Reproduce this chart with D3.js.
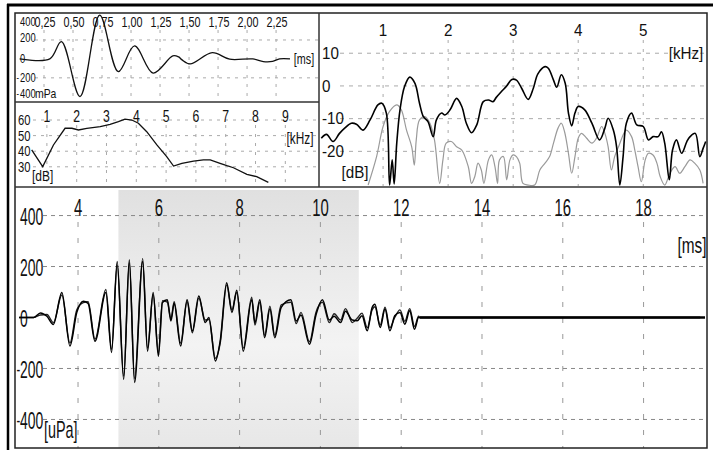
<!DOCTYPE html>
<html><head><meta charset="utf-8">
<script src="https://cdn.jsdelivr.net/npm/d3@7"></script>
<style>
html,body{margin:0;padding:0;background:#fff;}
svg{display:block;}
text{font-family:"Liberation Sans",Arial,sans-serif;fill:#111;}
</style></head><body>
<svg id="c" width="713" height="450"></svg>
<script>
// ---------- DATA ----------
// Click stimulus (top-left): time [ms] and pressure [mPa]
const clickTicks = [0.25,0.5,0.75,1.0,1.25,1.5,1.75,2.0,2.25];
const clickYTicks = [400,200,0,-200,-400];
const clickT = [0.04,0.30,0.40,0.56,0.73,0.89,1.03,1.19,1.36,1.41,1.44,1.51,1.70,1.85,2.05,2.14,2.22,2.28,2.37];
const clickV = [0,0,182,-397,463,-134,137,-150,32,21,-10,-53,66,-3,0,-28,-26,0,0];

// Stimulus spectrum (middle-left): kHz and dB
const specTicks = [1,2,3,4,5,6,7,8,9];
const specYTicks = [60,50,40,30];
const specF = [0.49,0.86,1.22,1.61,1.84,2.06,2.34,2.79,3.12,3.40,3.62,3.85,4.07,4.35,4.69,5.02,5.25,5.53,5.92,6.25,6.48,6.81,7.04,7.26,7.71,8.04,8.43];
const specV = [40.8,30.1,44,54.7,54.7,53.6,54.7,55.7,57.2,58.9,60.6,60,57.9,52.5,44,36.5,30.5,32.2,33.7,34.4,34.4,32.2,30.7,29.4,25.2,23.7,20];

// OAE response spectrum (top-right): kHz and dB
const oaeTicks = [1,2,3,4,5];
const oaeYTicks = [10,0,-10,-20];
const respF = [0.05,0.13,0.23,0.33,0.41,0.51,0.59,0.69,0.80,0.92,0.98,1.05,1.10,1.14,1.17,1.21,1.26,1.33,1.41,1.49,1.56,1.62,1.69,1.77,1.82,1.90,1.95,2.03,2.13,2.21,2.28,2.36,2.44,2.54,2.62,2.69,2.74,2.82,2.90,2.98,3.05,3.13,3.23,3.31,3.38,3.49,3.54,3.62,3.67,3.74,3.80,3.85,3.90,3.95,4.00,4.10,4.21,4.33,4.41,4.46,4.54,4.59,4.64,4.69,4.74,4.82,4.90,5.00,5.08,5.15,5.23,5.28,5.33,5.40,5.45,5.51,5.59,5.67,5.72,5.80,5.87,5.92,5.96];
const respV = [-16.0,-14.8,-17.0,-14.5,-12.9,-11.4,-11.7,-13.5,-10.4,-5.8,-5.3,-8.3,-30.3,-22.6,-30.0,-17.5,-7.3,-0.2,2.7,0.8,-5.3,-9.4,-10.9,-15.5,-10.4,-8.3,-8.9,-7.3,-3.8,-6.3,-11.4,-14.3,-11.9,-4.8,-4.3,-4.8,-3.5,-1.7,0,2.0,1.8,-0.7,-4.1,-0.7,3.7,5.9,5.4,1.8,-0.4,3.4,0.8,-8.3,-12.2,-8.3,-6.3,-7.3,-11.4,-16.5,-12.9,-9.9,-13.5,-18.6,-30.3,-21.6,-11.4,-8.3,-11.9,-12.4,-16.5,-15.5,-15.5,-14.0,-17.5,-28.7,-19.6,-16.5,-20.6,-17.0,-15.5,-14.5,-21.6,-19.1,-17.0];
const noiseF = [0.77,0.90,1.00,1.10,1.21,1.28,1.36,1.44,1.48,1.51,1.56,1.64,1.72,1.79,1.87,1.92,1.97,2.05,2.13,2.21,2.31,2.36,2.41,2.46,2.51,2.55,2.62,2.67,2.72,2.76,2.79,2.85,2.90,2.95,3.00,3.05,3.10,3.15,3.23,3.33,3.41,3.49,3.56,3.62,3.69,3.74,3.79,3.85,3.90,3.95,4.00,4.05,4.13,4.21,4.28,4.36,4.41,4.46,4.51,4.56,4.62,4.74,4.82,4.87,4.92,4.97,5.03,5.08,5.15,5.21,5.26,5.33,5.41,5.49,5.56,5.64,5.72,5.79,5.87,5.92];
const noiseV = [-30.3,-21.6,-12.4,-7.8,-5.8,-7.3,-13.5,-18.6,-24.2,-16.5,-10.4,-9.4,-11.4,-16.5,-29.8,-22.6,-17.5,-17.0,-18.6,-19.6,-24.7,-29.8,-27.7,-23.6,-25.7,-29.8,-22.6,-21.1,-24.7,-29.8,-22.6,-21.6,-28.7,-22.6,-21.1,-21.6,-23.6,-29.8,-30.3,-30.3,-25.7,-23.6,-21.6,-17.5,-12.9,-11.4,-14.0,-20.6,-26.7,-21.6,-16.0,-14.5,-16.0,-17.5,-16.0,-12.4,-14.5,-18.6,-25.7,-21.6,-18.6,-13.5,-15.5,-19.6,-24.7,-29.3,-22.6,-20.6,-21.1,-23.6,-27.7,-30.3,-26.7,-24.7,-26.7,-24.7,-22.6,-23.6,-25.7,-29.8];

// Response waveform (bottom): time [ms], pressure [uPa], traces A and B
const waveTicks = [4,6,8,10,12,14,16,18];
const waveYTicks = [400,200,0,-200,-400];
const waveT = [2.54,2.90,3.07,3.23,3.39,3.60,3.80,3.97,4.13,4.25,4.42,4.69,4.83,4.97,5.13,5.27,5.40,5.60,5.72,5.86,5.99,6.09,6.21,6.30,6.38,6.54,6.70,6.83,6.99,7.15,7.24,7.40,7.52,7.68,7.81,7.93,8.09,8.30,8.38,8.50,8.62,8.75,8.87,9.03,9.27,9.40,9.52,9.73,9.89,10.05,10.22,10.34,10.50,10.62,10.79,10.91,11.03,11.16,11.28,11.35,11.48,11.60,11.72,11.84,11.97,12.09,12.21,12.33,12.43,12.46,19.4];
const waveA = [0,0,18,5,-27,98,-112,20,64,55,-93,98,-137,220,-243,227,-255,220,-132,98,-152,59,70,-14,55,-112,70,-53,84,-20,0,-171,-92,136,20,107,-132,70,-20,70,-79,34,-79,40,70,-14,10,-105,10,70,-10,5,-20,25,-10,-13,7,-52,39,52,-39,33,-52,7,20,-26,26,-46,0,0,0];
const waveB = [0,0,10,12,-20,88,-100,30,58,62,-85,110,-125,205,-230,215,-240,232,-120,90,-140,66,60,-5,62,-100,62,-60,76,-10,-8,-160,-100,128,30,98,-120,80,-30,60,-70,44,-70,50,60,-24,20,-95,20,60,-20,15,-10,35,-20,-3,17,-40,30,42,-30,40,-40,0,30,-15,35,-35,5,0,0];
const analysisWindow = [5.0, 10.95];

// ---------- DRAWING ----------
const svg = d3.select('#c');
const defs = svg.append('defs');

function label(g, x, y, s, size, sx, anchor) {
  g.append('text')
    .attr('transform', `translate(${x},${y}) scale(${sx},1)`)
    .attr('text-anchor', anchor || 'start')
    .attr('dominant-baseline', 'central')
    .style('font-size', size + 'px')
    .text(s);
}
// numeric label: digits start at x, a small minus sign sits just left of them
function numLabel(g, x, y, v, size, sx) {
  label(g, x, y, String(Math.abs(v)), size, sx, 'start');
  if (v < 0) label(g, x - 3.5, y, '-', size * 0.8, sx, 'start');
}
function clip(id, x0, y0, x1, y1) {
  defs.append('clipPath').attr('id', id).append('rect')
    .attr('x', x0).attr('y', y0).attr('width', x1 - x0).attr('height', y1 - y0);
  return `url(#${id})`;
}
function zip(a, b) { return a.map((d, i) => [d, b[i]]); }

// ===== Bottom panel =====
const xB = d3.scaleLinear().domain([2.44, 19.57]).range([15, 707]);
const yB = d3.scaleLinear().domain([-512, 512]).range([448, 187]);
const gB = svg.append('g');
const grad = defs.append('linearGradient').attr('id', 'shade').attr('x1', 0).attr('x2', 0).attr('y1', 0).attr('y2', 1);
[[0,'#e0e0e0'],[0.3,'#eaeaea'],[0.6,'#f3f3f3'],[1,'#e7e7e7']].forEach(s =>
  grad.append('stop').attr('offset', s[0]).attr('stop-color', s[1]));
gB.append('rect').attr('x', xB(analysisWindow[0])).attr('y', 190)
  .attr('width', xB(analysisWindow[1]) - xB(analysisWindow[0])).attr('height', 258)
  .attr('fill', 'url(#shade)');
gB.selectAll('.vg').data(waveTicks).join('line')
  .attr('x1', d => xB(d)).attr('x2', d => xB(d)).attr('y1', 222).attr('y2', 448)
  .attr('stroke', '#999').attr('stroke-width', 1).attr('stroke-dasharray', '5,11');
gB.selectAll('.hg').data(waveYTicks.filter(d => d !== 0)).join('line')
  .attr('x1', 43).attr('x2', 705).attr('y1', d => yB(d)).attr('y2', d => yB(d))
  .attr('stroke', '#888').attr('stroke-width', 1).attr('stroke-dasharray', '4,4');
waveTicks.forEach(d => label(gB, xB(d), 208, String(d), 24, 0.62, 'middle'));
waveYTicks.forEach(d => numLabel(gB, 20, yB(d) + 1, d, 24, 0.58));
label(gB, 44, yB(-400) + 10, '[uPa]', 24, 0.6, 'start');
label(gB, 692, 245, '[ms]', 22, 0.7, 'middle');
const lineB = d3.line().x(d => xB(d[0])).y(d => yB(d[1])).curve(d3.curveMonotoneX);
const cpB = clip('cb', 15, 188, 707, 448);
gB.append('path').datum(zip(waveT, waveB)).attr('d', lineB).attr('fill', 'none')
  .attr('stroke', '#222').attr('stroke-width', 1.4).attr('clip-path', cpB);
gB.append('path').datum(zip(waveT, waveA)).attr('d', lineB).attr('fill', 'none')
  .attr('stroke', '#000').attr('stroke-width', 1.5).attr('clip-path', cpB);
gB.append('line').attr('x1', xB(12.46)).attr('x2', 705).attr('y1', yB(0)).attr('y2', yB(0))
  .attr('stroke', '#000').attr('stroke-width', 2.4);

// ===== Top-left click panel =====
const xC = d3.scaleLinear().domain([0, 2.62]).range([15, 319]);
const yC = d3.scaleLinear().domain([-455, 485]).range([102, 13]);
const gC = svg.append('g');
gC.selectAll('.vg').data(clickTicks).join('line')
  .attr('x1', d => xC(d)).attr('x2', d => xC(d)).attr('y1', 30).attr('y2', 102)
  .attr('stroke', '#aaa').attr('stroke-dasharray', '3,6');
gC.selectAll('.hg').data([200, -200]).join('line')
  .attr('x1', 35).attr('x2', 318).attr('y1', d => yC(d)).attr('y2', d => yC(d))
  .attr('stroke', '#aaa').attr('stroke-dasharray', '3,5');
clickTicks.forEach(d => label(gC, xC(d) + 1, 22, d.toFixed(2).replace('.', ','), 15, 0.72, 'middle'));
const clickLabOff = {400: 0, 200: -3, 0: -1, '-200': -0.5, '-400': -3.5};
clickYTicks.forEach(d => numLabel(gC, 20, yC(d) + clickLabOff[d], d, 13, 0.72));
label(gC, 35, yC(-400) - 3.5, 'mPa', 13, 0.8, 'start');
label(gC, 304, 59, '[ms]', 15, 0.72, 'middle');
const lineC = d3.line().x(d => xC(d[0])).y(d => yC(d[1])).curve(d3.curveCatmullRom.alpha(0.5));
gC.append('path').datum(zip(clickT, clickV)).attr('d', lineC).attr('fill', 'none')
  .attr('stroke', '#111').attr('stroke-width', 1.3).attr('clip-path', clip('cc', 15, 13, 319, 102));

// ===== Middle-left stimulus spectrum =====
const xS = d3.scaleLinear().domain([-0.07, 10.13]).range([15, 319]);
const yS = d3.scaleLinear().domain([17.7, 70.9]).range([186, 103]);
const gS = svg.append('g');
gS.selectAll('.vg').data(specTicks).join('line')
  .attr('x1', d => xS(d)).attr('x2', d => xS(d)).attr('y1', 125).attr('y2', 186)
  .attr('stroke', '#aaa').attr('stroke-dasharray', '3,6');
gS.selectAll('.hg').data(specYTicks).join('line')
  .attr('x1', 33).attr('x2', 318).attr('y1', d => yS(d)).attr('y2', d => yS(d))
  .attr('stroke', '#aaa').attr('stroke-dasharray', '3,5');
specTicks.forEach(d => label(gS, xS(d), 116, String(d), 17, 0.72, 'middle'));
specYTicks.forEach(d => label(gS, 18, yS(d), String(d), 15, 0.75, 'start'));
label(gS, 32, 176, '[dB]', 15, 0.8, 'start');
label(gS, 300, 138, '[kHz]', 16, 0.74, 'middle');
const lineS = d3.line().x(d => xS(d[0])).y(d => yS(d[1]));
gS.append('path').datum(zip(specF, specV)).attr('d', lineS).attr('fill', 'none')
  .attr('stroke', '#111').attr('stroke-width', 1.3).attr('clip-path', clip('cs', 15, 103, 319, 186));

// ===== Right OAE spectrum =====
const xO = d3.scaleLinear().domain([0.03, 5.98]).range([320, 707]);
const yO = d3.scaleLinear().domain([-30.9, 22.3]).range([187, 13]);
const gO = svg.append('g');
gO.selectAll('.vg').data(oaeTicks).join('line')
  .attr('x1', d => xO(d)).attr('x2', d => xO(d)).attr('y1', 40).attr('y2', 186)
  .attr('stroke', '#aaa').attr('stroke-dasharray', '3,6');
gO.selectAll('.hg').data(oaeYTicks).join('line')
  .attr('x1', 340).attr('x2', 706).attr('y1', d => yO(d)).attr('y2', d => yO(d))
  .attr('stroke', '#aaa').attr('stroke-dasharray', '4,5');
oaeTicks.forEach(d => label(gO, xO(d), 30, String(d), 16, 0.95, 'middle'));
oaeYTicks.forEach(d => label(gO, 322, yO(d), (d < 0 ? '-' : '') + Math.abs(d), 16, 0.95, 'start'));
label(gO, 686, 53, '[kHz]', 16, 0.95, 'middle');
label(gO, 355, 172, '[dB]', 16, 0.95, 'middle');
const lineO = d3.line().x(d => xO(d[0])).y(d => yO(d[1])).curve(d3.curveCatmullRom.alpha(0.5));
const cpO = clip('co', 320, 13, 707, 186);
gO.append('path').datum(zip(noiseF, noiseV)).attr('d', lineO).attr('fill', 'none')
  .attr('stroke', '#9a9a9a').attr('stroke-width', 1.2).attr('clip-path', cpO);
gO.append('path').datum(zip(respF, respV)).attr('d', lineO).attr('fill', 'none')
  .attr('stroke', '#000').attr('stroke-width', 1.6).attr('clip-path', cpO);

// ===== Frame =====
const gF = svg.append('g').attr('fill', 'none');
gF.append('rect').attr('x', 15).attr('y', 13).attr('width', 692).attr('height', 435)
  .attr('stroke', '#222').attr('stroke-width', 1.5);
gF.append('line').attr('x1', 319).attr('x2', 319).attr('y1', 13).attr('y2', 187).attr('stroke', '#333').attr('stroke-width', 1.5);
gF.append('line').attr('x1', 15).attr('x2', 319).attr('y1', 102).attr('y2', 102).attr('stroke', '#333').attr('stroke-width', 1.5);
gF.append('line').attr('x1', 15).attr('x2', 707).attr('y1', 187).attr('y2', 187).attr('stroke', '#333').attr('stroke-width', 1.5);
gF.append('line').attr('x1', 7).attr('x2', 713).attr('y1', 5).attr('y2', 5).attr('stroke', '#000').attr('stroke-width', 3);
gF.append('line').attr('x1', 8).attr('x2', 8).attr('y1', 4).attr('y2', 450).attr('stroke', '#000').attr('stroke-width', 2.5);
</script>
</body></html>
